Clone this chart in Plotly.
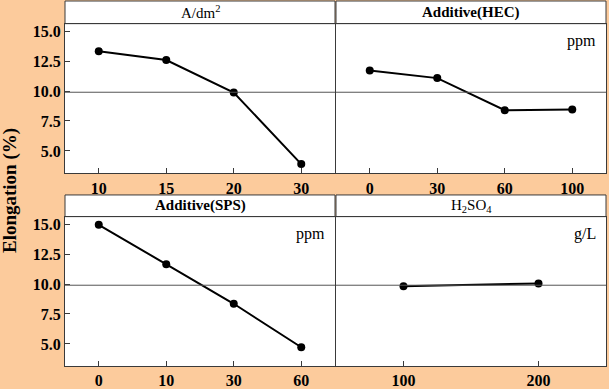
import plotly.graph_objects as go

# ---- data ----
cd_levels = ["10", "15", "20", "30"]
cd_values = [13.33, 12.59, 9.88, 3.90]

hec_levels = ["0", "30", "60", "100"]
hec_values = [11.71, 11.08, 8.40, 8.45]

sps_levels = ["0", "10", "30", "60"]
sps_values = [14.95, 11.65, 8.35, 4.72]

h2so4_levels = ["100", "200"]
h2so4_values = [9.81, 10.05]

mean_line = 9.9
y_ticks = [5.0, 7.5, 10.0, 12.5, 15.0]
y_range = [3.13, 15.63]

panel_titles = ["A/dm<sup>2</sup>", "<b>Additive(HEC)</b>", "<b>Additive(SPS)</b>", "H<sub>2</sub>SO<sub>4</sub>"]
unit_labels = ["", "ppm", "ppm", "g/L"]

W, H = 609, 389
PEACH = "#FCCB9C"
FRAME = "#3a3a3a"
SERIF = "Liberation Serif, Times New Roman, serif"

def fx(px):
    return px / W

def fy(py):
    return (H - py) / H

# pixel boxes: (x0, x1, plot_top, plot_bottom, strip_top)
boxes = [
    (65, 335, 23, 175, 0),
    (336, 606, 23, 175, 0),
    (65, 335, 219, 371, 197),
    (336, 606, 219, 371, 197),
]

series = [
    (cd_levels, cd_values),
    (hec_levels, hec_values),
    (sps_levels, sps_values),
    (h2so4_levels, h2so4_values),
]

fig = go.Figure()
shapes = []
annotations = []

for i, ((levels, vals), box) in enumerate(zip(series, boxes)):
    n = i + 1
    xa = "x" if n == 1 else f"x{n}"
    ya = "y" if n == 1 else f"y{n}"
    x0, x1, pt, pb, st = box
    fig.add_trace(go.Scatter(
        x=levels, y=vals, mode="lines+markers", xaxis=xa, yaxis=ya,
        line=dict(color="black", width=2),
        marker=dict(color="black", size=8),
        showlegend=False, hoverinfo="skip",
    ))
    show_y = (i % 2 == 0)
    fig.layout[f"xaxis{'' if n == 1 else n}"] = dict(
        domain=[fx(x0), fx(x1)], anchor=ya, type="category",
        range=[-0.5, len(levels) - 0.5],
        showline=True, mirror=True, linecolor=FRAME, linewidth=1,
        ticks="inside", ticklen=5, tickcolor=FRAME, showgrid=False, zeroline=False,
        tickfont=dict(family=SERIF, size=16, color="black", weight="bold"),
    )
    fig.layout[f"yaxis{'' if n == 1 else n}"] = dict(
        domain=[fy(pb), fy(pt)], anchor=xa, range=y_range,
        tickvals=y_ticks, tickformat=".1f",
        showticklabels=show_y,
        showline=True, mirror=True, linecolor=FRAME, linewidth=1,
        ticks="inside" if show_y else "", ticklen=5, tickcolor=FRAME,
        showgrid=False, zeroline=False,
        tickfont=dict(family=SERIF, size=16, color="black", weight="bold"),
    )
    # mean reference line
    shapes.append(dict(type="line", xref=f"{xa} domain", yref=ya,
                       x0=0, x1=1, y0=mean_line, y1=mean_line,
                       line=dict(color="#555555", width=1)))
    # strip
    shapes.append(dict(type="rect", xref="paper", yref="paper",
                       x0=fx(x0), x1=fx(x1), y0=fy(pt), y1=fy(st),
                       fillcolor="white", line=dict(color=FRAME, width=1),
                       layer="below"))
    annotations.append(dict(text=panel_titles[i], xref="paper", yref="paper",
                            x=(fx(x0) + fx(x1)) / 2, y=(fy(pt) + fy(st)) / 2,
                            xanchor="center", yanchor="middle", showarrow=False,
                            font=dict(family=SERIF, size=15, color="black")))
    if unit_labels[i]:
        annotations.append(dict(text=unit_labels[i], xref="paper", yref="paper",
                                x=fx(x1 - 8), y=fy(pt + 6),
                                xanchor="right", yanchor="top", showarrow=False,
                                font=dict(family=SERIF, size=16, color="black")))

annotations.append(dict(text="<b>Elongation (%)</b>", xref="paper", yref="paper",
                        x=fx(10), y=fy(193), textangle=-90,
                        xanchor="center", yanchor="middle", showarrow=False,
                        font=dict(family=SERIF, size=19, color="black")))

fig.update_layout(
    width=W, height=H, margin=dict(l=0, r=0, t=0, b=0),
    paper_bgcolor=PEACH, plot_bgcolor="white",
    shapes=shapes, annotations=annotations,
)

fig.write_html(
    "out.html",
    config={"displayModeBar": False},
    post_script="document.body.style.margin='0';document.body.style.overflow='hidden';",
)
